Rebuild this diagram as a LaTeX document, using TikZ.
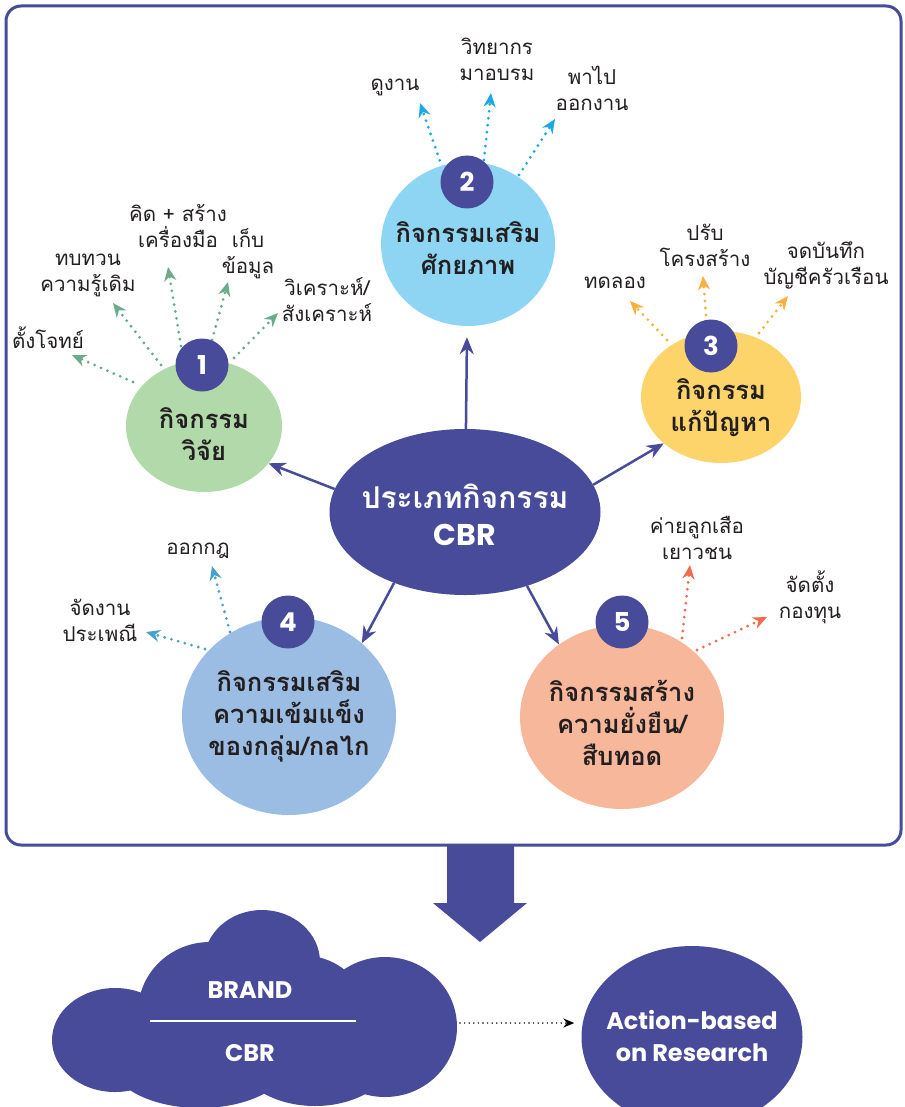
\documentclass[tikz,border=0pt]{standalone}
\usepackage{fontspec}
\usetikzlibrary{shapes.geometric,arrows.meta}
\newfontfamily\thaifont[Script=Thai]{Loma}
\newfontfamily\latfont{Poppins}
\definecolor{indigo}{HTML}{484A9A}
\definecolor{textdark}{HTML}{231F20}
\definecolor{cgreen}{HTML}{B2D9AA}
\definecolor{cblue}{HTML}{8DD5F3}
\definecolor{cyellow}{HTML}{FDD469}
\definecolor{cblue4}{HTML}{9BBDE3}
\definecolor{csalmon}{HTML}{F7B79B}
\definecolor{agreen}{HTML}{6BAB8B}
\definecolor{acyan}{HTML}{1AA9E6}
\definecolor{aorange}{HTML}{FBB03B}
\definecolor{ablue}{HTML}{4AA0CC}
\definecolor{acoral}{HTML}{F26B4B}
\tikzset{
  ell/.style={ellipse, inner sep=0pt, align=center, text=textdark,
    font=\thaifont\bfseries\fontsize{25.5}{32}\selectfont},
  badge/.style={circle, fill=indigo, minimum size=53pt, inner sep=0pt, text=white,
    font=\latfont\bfseries\fontsize{26}{26}\selectfont},
  lbl/.style={align=center, text=textdark, inner sep=0pt,
    font=\thaifont\fontsize{20.5}{26}\selectfont},
  dotarrow/.style={line width=3.1pt, dash pattern=on 0pt off 7pt, line cap=round,
    -{Stealth[length=14pt,width=12pt]}},
  mainarrow/.style={draw=indigo, line width=2.5pt, -{Stealth[length=17pt,width=14pt]}},
}
\begin{document}
\begin{tikzpicture}[x=1pt,y=-1pt]
\useasboundingbox (0,0) rectangle (904,1107);
\fill[white] (0,0) rectangle (904,1107);
% frame
\draw[indigo, line width=3pt, rounded corners=15pt] (6,6) rectangle (901,845);

% dotted arrow end points
\coordinate (g1s) at (133,382); \coordinate (g1e) at (72,355);
\coordinate (g2s) at (161,365); \coordinate (g2e) at (113,303);
\coordinate (g3s) at (181,346); \coordinate (g3e) at (168,267);
\coordinate (g4s) at (212,340); \coordinate (g4e) at (228,282);
\coordinate (g5s) at (234,358); \coordinate (g5e) at (278,313);
\coordinate (b1s) at (442,167); \coordinate (b1e) at (420,103);
\coordinate (b2s) at (484,160); \coordinate (b2e) at (491,93);
\coordinate (b3s) at (519,175); \coordinate (b3e) at (555,119);
\coordinate (o1s) at (667,340); \coordinate (o1e) at (630,301);
\coordinate (o2s) at (706,315); \coordinate (o2e) at (703,276);
\coordinate (o3s) at (759,333); \coordinate (o3e) at (788,296);
\coordinate (p1s) at (230,632); \coordinate (p1e) at (212,566);
\coordinate (p2s) at (205,649); \coordinate (p2e) at (146,632);
\coordinate (r1s) at (682,638); \coordinate (r1e) at (690,565);
\coordinate (r2s) at (697,650); \coordinate (r2e) at (767,617);

\draw[dotarrow, agreen] (g1s) -- (g1e);
\draw[dotarrow, agreen] (g2s) -- (g2e);
\draw[dotarrow, agreen] (g3s) -- (g3e);
\draw[dotarrow, agreen] (g4s) -- (g4e);
\draw[dotarrow, agreen] (g5s) -- (g5e);
\draw[dotarrow, acyan] (b1s) -- (b1e);
\draw[dotarrow, acyan] (b2s) -- (b2e);
\draw[dotarrow, acyan] (b3s) -- (b3e);
\draw[dotarrow, aorange] (o1s) -- (o1e);
\draw[dotarrow, aorange] (o2s) -- (o2e);
\draw[dotarrow, aorange] (o3s) -- (o3e);
\draw[dotarrow, ablue] (p1s) -- (p1e);
\draw[dotarrow, ablue] (p2s) -- (p2e);
\draw[dotarrow, acoral] (r1s) -- (r1e);
\draw[dotarrow, acoral] (r2s) -- (r2e);

% ellipses
\node[ell, fill=cgreen, minimum width=156pt, minimum height=132pt] (n1) at (204,426) {};
\node[ell, fill=cblue, minimum width=174pt, minimum height=164pt] (n2) at (468,244) {};
\node[ell, fill=cyellow, minimum width=160pt, minimum height=132pt] (n3) at (721,397) {};
\node[ell, fill=cblue4, minimum width=214pt, minimum height=198pt] (n4) at (289,716) {};
\node[ell, fill=csalmon, minimum width=204pt, minimum height=184pt] (n5) at (622,717) {};
\node[ellipse, fill=indigo, inner sep=0pt, minimum width=271pt, minimum height=166pt] (c) at (465,512) {};

% titles
\node[ell] (t1) at (204,434) {กิจกรรม\\วิจัย};
\node[ell] (t2) at (468,248) {กิจกรรมเสริม\\ศักยภาพ};
\node[ell] (t3) at (721,408) {กิจกรรม\\แก้ปัญหา};
\node[ell] (t4) at (289,716) {กิจกรรมเสริม\\ความเข้มแข็ง\\ของกลุ่ม/กลไก};
\node[ell] (t5) at (622,723) {กิจกรรมสร้าง\\ความยั่งยืน/\\สืบทอด};
\node[align=center, text=white, inner sep=0pt, font=\thaifont\bfseries\fontsize{30}{37}\selectfont] (ct) at (465,515)
  {ประเภทกิจกรรม\\{\latfont CBR}};

% badges
\node[badge] (k1) at (202,365) {1};
\node[badge] (k2) at (467,182) {2};
\node[badge] (k3) at (711,346) {3};
\node[badge] (k4) at (288,622) {4};
\node[badge] (k5) at (622,622) {5};

% main arrows
\draw[mainarrow] (c.170) -- (n1.-30);
\draw[mainarrow, shorten >=11pt] (c) -- (n2);
\draw[mainarrow] (c.12) -- (n3.219);
\draw[mainarrow] (c.225) -- (n4.45);
\draw[mainarrow] (c.-50) -- (n5.131);

% labels
\node[lbl] (l1) at (48,338) {ตั้งโจทย์};
\node[lbl] (l2) at (88,275) {ทบทวน\\ความรู้เดิม};
\node[lbl] (l3) at (178,226) {คิด + สร้าง\\เครื่องมือ};
\node[lbl] (l4) at (248,254) {เก็บ\\ข้อมูล};
\node[lbl] (l5) at (327,300) {วิเคราะห์/\\สังเคราะห์};
\node[lbl] (l6) at (395,87) {ดูงาน};
\node[lbl] (l7) at (497,59) {วิทยากร\\มาอบรม};
\node[lbl] (l8) at (592,88) {พาไป\\ออกงาน};
\node[lbl] (l9) at (615,283) {ทดลอง};
\node[lbl] (l10) at (705,245) {ปรับ\\โครงสร้าง};
\node[lbl] (l11) at (826,265) {จดบันทึก\\บัญชีครัวเรือน};
\node[lbl] (l12) at (198,551) {ออกกฎ};
\node[lbl] (l13) at (100,620) {จัดงาน\\ประเพณี};
\node[lbl] (l14) at (697,538) {ค่ายลูกเสือ\\เยาวชน};
\node[lbl] (l15) at (810,597) {จัดตั้ง\\กองทุน};

% big block arrow
\fill[indigo] (447,845) -- (514,845) -- (514,903) -- (527,903) -- (480,942)
  -- (433,903) -- (447,903) -- cycle;

% cloud
\begin{scope}[indigo]
\fill (115,1040) ellipse [x radius=63, y radius=52];
\fill (210,1012) ellipse [x radius=72, y radius=70];
\fill (262,962) ellipse [x radius=58, y radius=52];
\fill (385,1027) ellipse [x radius=72, y radius=70];
\fill (200,1060) ellipse [x radius=90, y radius=48];
\fill (315,1052) ellipse [x radius=80, y radius=54];
\fill (300,1000) ellipse [x radius=60, y radius=45];
\end{scope}
\node[inner sep=0pt, minimum width=406pt, minimum height=190pt] (cloud) at (255,1012) {};
\node[text=white, font=\latfont\bfseries\fontsize{24}{24}\selectfont] (brand) at (250,990) {BRAND};
\node[text=white, font=\latfont\bfseries\fontsize{24}{24}\selectfont] (cbr) at (250,1053) {CBR};
\coordinate (ll) at (150,1021); \coordinate (lr) at (356,1021);
\draw[white, line width=2.5pt] (ll) -- (lr);

% action ellipse
\node[ellipse, fill=indigo, inner sep=0pt, minimum width=221pt, minimum height=182pt] (abr) at (692,1037) {};
\node[align=center, text=white, inner sep=0pt, font=\latfont\bfseries\fontsize{24}{32}\selectfont] (abrt) at (692,1036)
  {Action-based\\on Research};
\coordinate (cr) at (460,1023);
\draw[line width=1.6pt, dash pattern=on 0pt off 4.6pt, line cap=round, shorten >=7pt,
  -{Stealth[length=11pt,width=9pt]}] (cr) -- (abr.west |- cr);
\end{tikzpicture}
\end{document}
